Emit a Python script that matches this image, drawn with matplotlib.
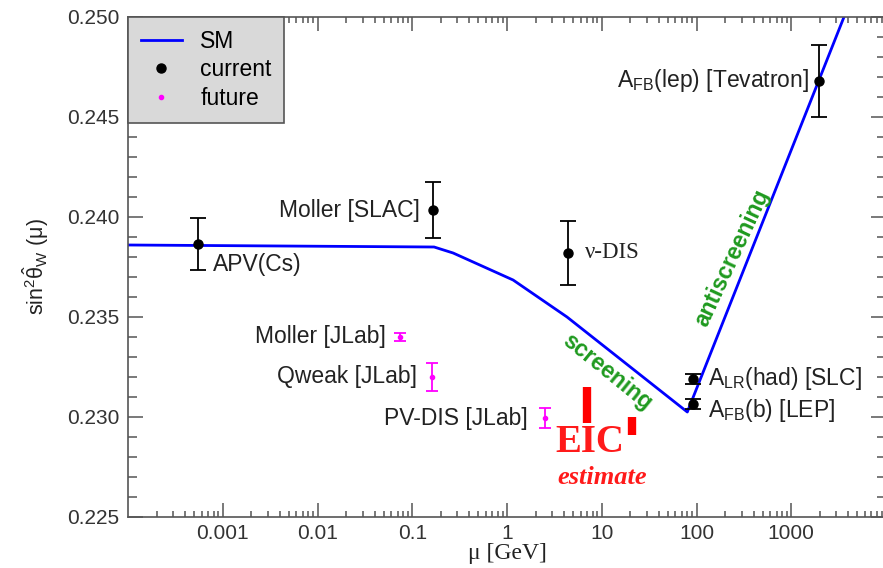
import matplotlib.pyplot as plt
from matplotlib.lines import Line2D
from matplotlib.ticker import FixedLocator, FixedFormatter, LogLocator, MultipleLocator

plt.rcParams['font.family'] = ['Liberation Sans', 'DejaVu Sans']
plt.rcParams['mathtext.fontset'] = 'custom'
plt.rcParams['mathtext.rm'] = 'Liberation Sans'
plt.rcParams['mathtext.it'] = 'Liberation Sans:italic'

# SM running of sin^2 theta_W
sm_mu = [1e-4, 0.17, 0.27, 1.16, 4.3, 80, 5000]
sm_s2w = [0.2386, 0.2385, 0.2382, 0.23685, 0.2350, 0.23025, 0.2517]

# current measurements
cur_names = ['APV(Cs)', 'Moller [SLAC]', 'ν-DIS', r'A$_{\rm FB}$(lep) [Tevatron]',
             r'A$_{\rm LR}$(had) [SLC]', r'A$_{\rm FB}$(b) [LEP]']
cur_mu = [0.00055, 0.166, 4.4, 1970, 91, 91]
cur_s2w = [0.23865, 0.24035, 0.2382, 0.2468, 0.2319, 0.23065]
cur_err = [0.0013, 0.0014, 0.0016, 0.0018, 0.00025, 0.00025]

# future measurements
fut_names = ['Moller [JLab]', 'Qweak [JLab]', 'PV-DIS [JLab]']
fut_mu = [0.075, 0.162, 2.5]
fut_s2w = [0.2340, 0.2320, 0.22995]
fut_err = [0.0002, 0.0007, 0.0005]

# EIC estimate
eic_mu = [6.95, 20.7]
eic_s2w = [0.2306, 0.22955]
eic_err = [0.0009, 0.00045]

xticks = [0.001, 0.01, 0.1, 1, 10, 100, 1000]
xticklabels = ['0.001', '0.01', '0.1', '1', '10', '100', '1000']
yticks = [0.225, 0.230, 0.235, 0.240, 0.245, 0.250]

fig = plt.figure(figsize=(8.83, 5.68), dpi=100)
ax = fig.add_axes([128/883, 51/568, 758/883, 500/568])

ax.plot(sm_mu, sm_s2w, color='#0000ff', lw=2.0, zorder=2)
ax.errorbar(cur_mu, cur_s2w, yerr=cur_err, fmt='o', color='black', ms=6.5,
            elinewidth=1.3, capsize=6, capthick=1.3, zorder=3)
ax.errorbar(fut_mu, fut_s2w, yerr=fut_err, fmt='o', color='#ff00ff', ms=3,
            elinewidth=1.3, capsize=4.5, capthick=1.3, zorder=3)
ax.errorbar(eic_mu, eic_s2w, yerr=eic_err, fmt='none', ecolor='#ff0000',
            elinewidth=6, capsize=0, zorder=3)

# labels next to the points (offsets in pixels)
cur_off = [(15, -21, 'left'), (-13, 0, 'right'), (17, 0, 'left'),
           (-10, 0, 'right'), (15, 0, 'left'), (15, -6, 'left')]
for name, x, y, (dx, dy, ha) in zip(cur_names, cur_mu, cur_s2w, cur_off):
    fam = ['Liberation Serif'] if name.startswith('ν') else None
    ax.annotate(name, (x, y), xytext=(dx, dy), textcoords='offset pixels',
                ha=ha, va='center', fontsize=16.5, color='#222222', family=fam)
fut_off = [-15, -15, -17]
for name, x, y, dx in zip(fut_names, fut_mu, fut_s2w, fut_off):
    ax.annotate(name, (x, y), xytext=(dx, 0), textcoords='offset pixels',
                ha='right', va='center', fontsize=16.5, color='#222222')

ax.text(0.609, 0.150, 'EIC', transform=ax.transAxes, ha='center', va='center',
        fontsize=28, color='#ff1a1a', family='Liberation Serif', fontweight='bold')
ax.text(0.625, 0.080, 'estimate', transform=ax.transAxes, ha='center', va='center',
        fontsize=19, color='#ff1a1a', family='Liberation Serif', fontweight='bold', style='italic')
ax.text(0.633, 0.290, 'screening', transform=ax.transAxes, ha='center', va='center',
        rotation=-39, rotation_mode='anchor', fontsize=16.5, color='#1f9a1f', fontweight='bold')
ax.text(0.797, 0.518, 'antiscreening', transform=ax.transAxes, ha='center', va='center',
        rotation=65, rotation_mode='anchor', fontsize=16.5, color='#1f9a1f', fontweight='bold')

ax.set_xscale('log')
ax.set_xlim(1e-4, 1e4)
ax.set_ylim(0.225, 0.250)
ax.xaxis.set_major_locator(FixedLocator(xticks))
ax.xaxis.set_major_formatter(FixedFormatter(xticklabels))
ax.xaxis.set_minor_locator(LogLocator(base=10, subs=range(2, 10), numticks=20))
ax.set_yticks(yticks)
ax.set_yticklabels(['%.3f' % v for v in yticks])
ax.yaxis.set_minor_locator(MultipleLocator(0.001))

ax.tick_params(which='both', direction='in', top=True, right=True, color='#555555',
               width=1.1, labelsize=15, labelcolor='#333333')
ax.tick_params(axis='x', which='major', length=10, pad=5)
ax.tick_params(axis='x', which='minor', length=4.5)
ax.tick_params(axis='y', which='major', length=11, pad=6)
ax.tick_params(axis='y', which='minor', length=6.5)
for sp in ax.spines.values():
    sp.set_color('#555555')
    sp.set_linewidth(1.2)

ax.set_xlabel('μ [GeV]', fontsize=17, family='Liberation Serif', labelpad=0, color='#222222')
ax.set_ylabel(r'sin$^2\hat{\mathrm{\theta}}_{\rm W}$ (μ)', fontsize=15.5, labelpad=12, color='#222222')

handles = [Line2D([], [], color='#0000ff', lw=2.0),
           Line2D([], [], marker='o', color='black', ls='none', ms=6.5),
           Line2D([], [], marker='o', color='#ff00ff', ls='none', ms=3)]
leg = ax.legend(handles, ['SM', 'current', 'future'], loc='upper left', borderaxespad=0,
                fancybox=False, facecolor='#d9d9d9', edgecolor='#555555', framealpha=1,
                fontsize=16.5, handlelength=1.8, labelspacing=0.25, borderpad=0.55)
leg.get_frame().set_linewidth(1.2)

fig.savefig('out.png', dpi=100)
